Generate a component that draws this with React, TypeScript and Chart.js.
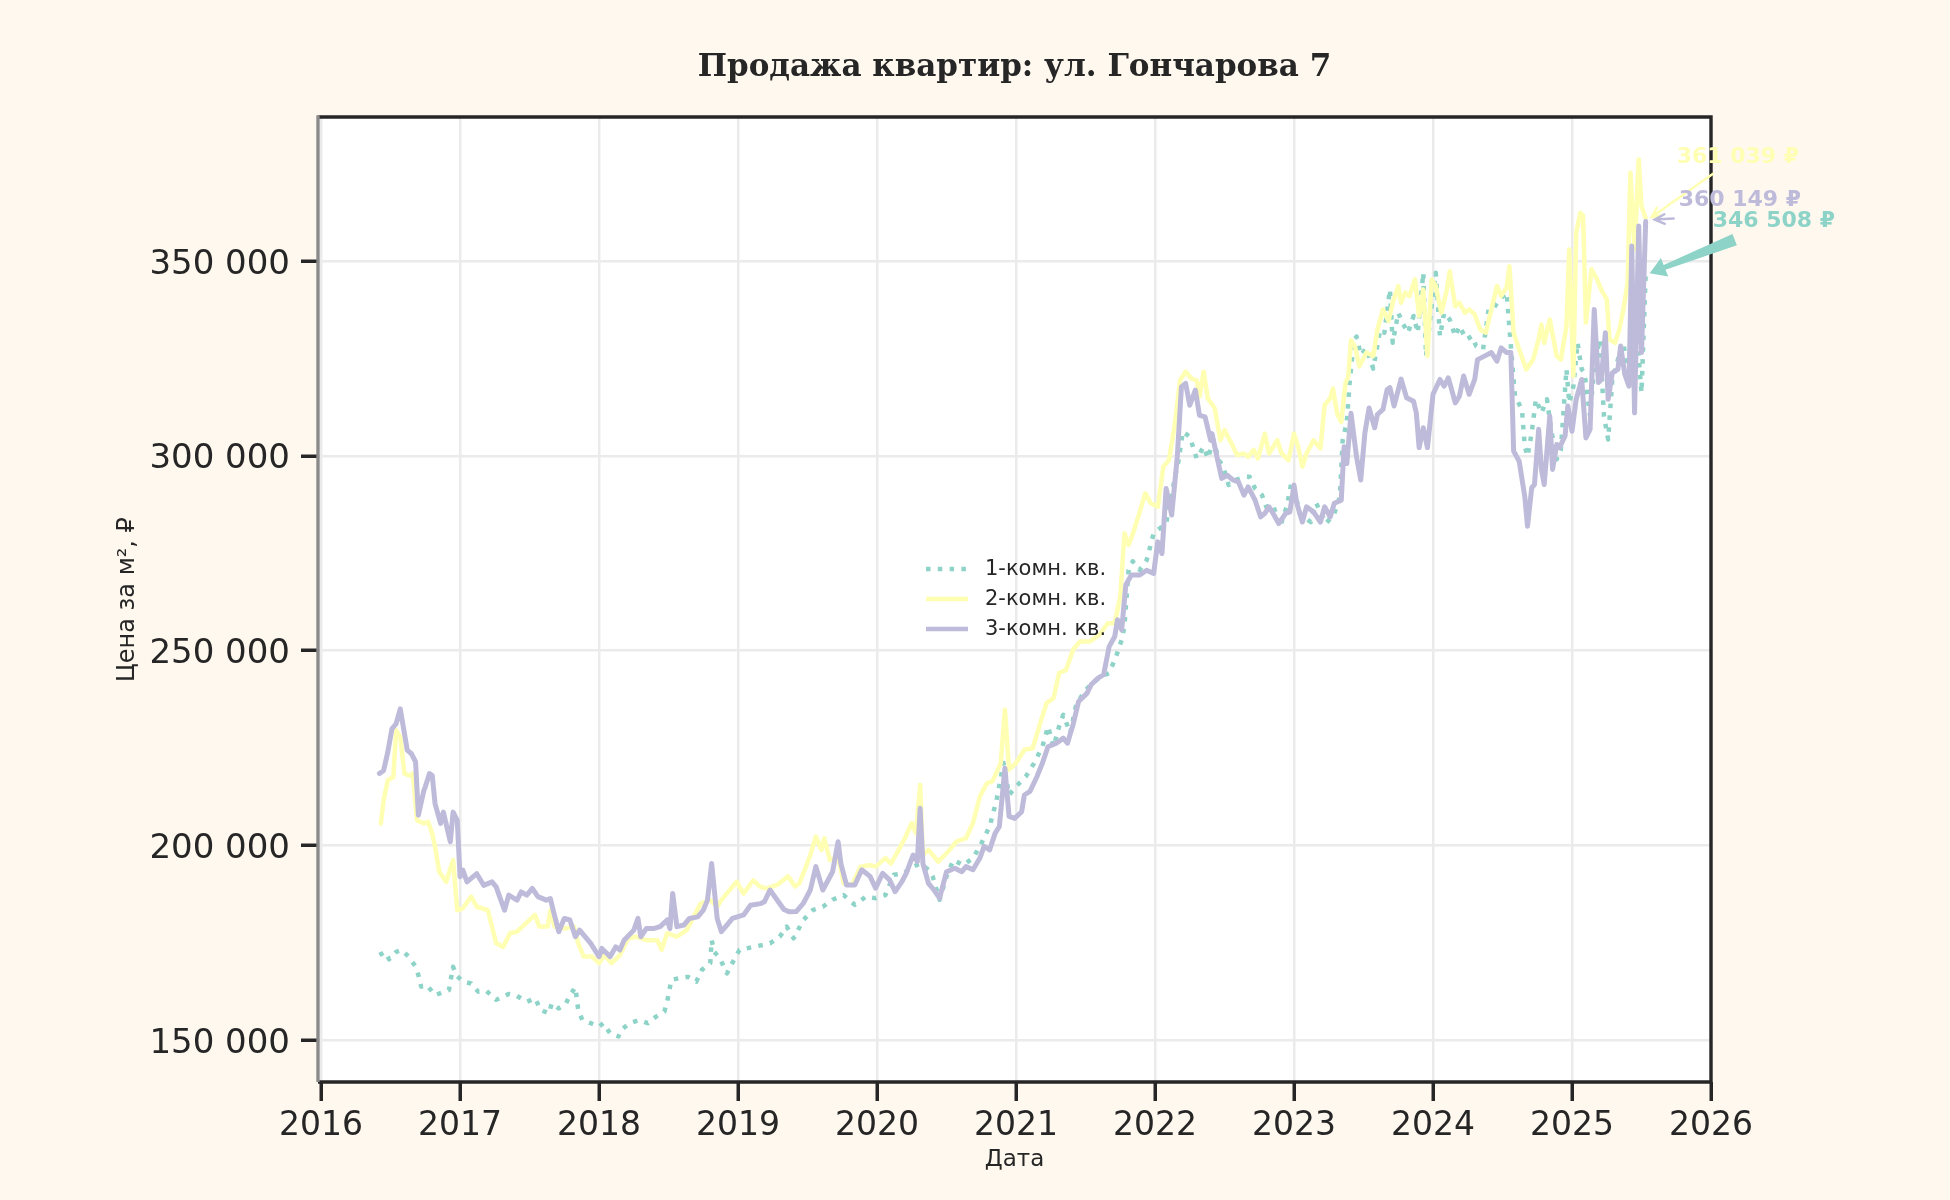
import { useEffect, useRef } from 'react';
import { Chart, registerables, ChartOptions, Plugin } from 'chart.js';

Chart.register(...registerables);

// x values are decimal years, y values are rubles per m²
const oneRoomDates = [
    2016.42, 2016.46, 2016.49, 2016.54, 2016.58, 2016.63, 2016.68, 2016.70, 2016.72, 2016.76, 2016.80, 2016.82, 2016.86, 2016.92, 2016.95, 2016.97,
    2017.02, 2017.08, 2017.13, 2017.19, 2017.26, 2017.35, 2017.41, 2017.48, 2017.54, 2017.58, 2017.64, 2017.66, 2017.71, 2017.76, 2017.79, 2017.83, 2017.85, 2017.88, 2017.94,
    2018.00, 2018.03, 2018.08, 2018.14, 2018.16, 2018.22, 2018.29, 2018.35, 2018.41, 2018.47, 2018.49, 2018.52, 2018.57, 2018.64, 2018.70, 2018.74, 2018.80, 2018.81, 2018.83, 2018.87, 2018.92, 2018.97,
    2019.01, 2019.11, 2019.18, 2019.23, 2019.30, 2019.35, 2019.40, 2019.47, 2019.54, 2019.61, 2019.68, 2019.76, 2019.84, 2019.92, 2019.99,
    2020.06, 2020.12, 2020.19, 2020.26, 2020.31, 2020.37, 2020.40, 2020.45, 2020.50, 2020.55, 2020.62, 2020.69, 2020.74, 2020.81, 2020.86, 2020.91, 2020.95,
    2021.00, 2021.07, 2021.13, 2021.19, 2021.23, 2021.27, 2021.31, 2021.34, 2021.39, 2021.43, 2021.49, 2021.55, 2021.61, 2021.67, 2021.72, 2021.76, 2021.78, 2021.81, 2021.84, 2021.89, 2021.94, 2021.99,
    2022.08, 2022.14, 2022.17, 2022.20, 2022.25, 2022.30, 2022.35, 2022.38, 2022.42, 2022.46, 2022.49, 2022.53, 2022.58, 2022.65, 2022.68, 2022.72, 2022.77, 2022.80, 2022.85, 2022.90, 2022.95, 2022.98,
    2023.01, 2023.04, 2023.12, 2023.16, 2023.23, 2023.29, 2023.33, 2023.35, 2023.38, 2023.40, 2023.43, 2023.45, 2023.48, 2023.52, 2023.57, 2023.62, 2023.65, 2023.69, 2023.71, 2023.75, 2023.78, 2023.82, 2023.86, 2023.89, 2023.93, 2023.95, 2023.99,
    2024.02, 2024.05, 2024.08, 2024.12, 2024.16, 2024.19, 2024.24, 2024.28, 2024.31, 2024.36, 2024.40, 2024.43, 2024.48, 2024.53, 2024.56, 2024.59, 2024.64, 2024.66, 2024.68, 2024.71, 2024.74, 2024.78, 2024.82, 2024.85, 2024.89, 2024.92, 2024.96, 2024.98,
    2025.01, 2025.04, 2025.07, 2025.09, 2025.13, 2025.16, 2025.20, 2025.23, 2025.26, 2025.29, 2025.33, 2025.37, 2025.40, 2025.43, 2025.46, 2025.50, 2025.53,
];
const oneRoomPrices = [
    171800, 172600, 170700, 172600, 173100, 171400, 168800, 166700, 163700, 164100, 162400, 161500, 162000, 162800, 168800, 166700,
    165000, 164500, 162400, 162600, 160300, 161800, 161300, 159800, 160700, 157700, 156800, 159400, 158100, 159200, 161500, 163500, 157700, 155100, 154300,
    153400, 154300, 151700, 150900, 152600, 154300, 155100, 154300, 156000, 157300, 159800, 165400, 165800, 166200, 165000, 168000, 169700, 175600, 172600, 170900, 167100, 170500,
    173100, 173900, 174400, 174800, 176500, 179100, 176100, 180800, 183400, 184200, 186000, 187200, 184700, 186800, 186400,
    187200, 192400, 192800, 194500, 195300, 193700, 192000, 186000, 192000, 196200, 194900, 196700, 199700, 204800, 211600, 221100, 212900,
    215100, 217600, 221100, 225300, 230500, 225300, 230500, 233500, 228800, 235600, 239500, 241600, 243300, 244200, 248500, 252700, 256200, 270700, 272900, 270700, 273200, 280100,
    282600, 293800, 298900, 306200, 304900, 299300, 302300, 299300, 304000, 298900, 297200, 292500, 293800, 294600, 294600, 291600, 289900, 286900, 287300, 281800, 287300, 292900,
    290300, 285200, 283000, 287800, 282600, 285200, 289500, 304000, 308700, 318600, 329700, 330600, 325900, 327600, 322400, 332400, 331600, 342700, 329000, 336700, 334200, 331600, 335900, 331600, 347000, 325600, 338400,
    347000, 330700, 336700, 335000, 330700, 333300, 329900, 330700, 328200, 327300, 337600, 337600, 340200, 341900, 328200, 315300, 311900, 302500, 299900, 305900, 314500, 311000, 314500, 306800, 299100, 301600, 322200, 313600,
    317900, 329000, 322200, 321300, 310200, 323000, 329900, 310200, 304200, 319600, 324700, 329000, 321300, 329900, 334200, 316200, 346508,
];

const twoRoomDates = [
    2016.43, 2016.45, 2016.48, 2016.52, 2016.54, 2016.57, 2016.60, 2016.64, 2016.66, 2016.69, 2016.74, 2016.77, 2016.80, 2016.82, 2016.85, 2016.90, 2016.95, 2016.98,
    2017.02, 2017.08, 2017.12, 2017.20, 2017.26, 2017.31, 2017.36, 2017.41, 2017.46, 2017.54, 2017.57, 2017.63, 2017.65, 2017.68, 2017.75, 2017.82, 2017.85, 2017.89, 2017.95,
    2018.00, 2018.04, 2018.09, 2018.15, 2018.21, 2018.27, 2018.34, 2018.42, 2018.45, 2018.49, 2018.56, 2018.63, 2018.73, 2018.80, 2018.85, 2018.88, 2018.94, 2018.99,
    2019.04, 2019.11, 2019.16, 2019.21, 2019.28, 2019.36, 2019.41, 2019.44, 2019.48, 2019.52, 2019.56, 2019.60, 2019.62, 2019.66, 2019.72, 2019.76, 2019.82, 2019.88, 2019.95, 2019.99,
    2020.06, 2020.10, 2020.15, 2020.20, 2020.25, 2020.28, 2020.31, 2020.33, 2020.37, 2020.44, 2020.50, 2020.57, 2020.64, 2020.69, 2020.74, 2020.79, 2020.83, 2020.89, 2020.92, 2020.95,
    2021.00, 2021.06, 2021.12, 2021.17, 2021.22, 2021.27, 2021.31, 2021.36, 2021.41, 2021.46, 2021.53, 2021.60, 2021.66, 2021.71, 2021.75, 2021.78, 2021.81, 2021.84, 2021.88, 2021.93, 2021.97,
    2022.02, 2022.06, 2022.10, 2022.14, 2022.18, 2022.22, 2022.26, 2022.30, 2022.32, 2022.35, 2022.38, 2022.43, 2022.47, 2022.50, 2022.55, 2022.59, 2022.64, 2022.67, 2022.71, 2022.74, 2022.79, 2022.82, 2022.88, 2022.91, 2022.96,
    2023.00, 2023.03, 2023.06, 2023.09, 2023.14, 2023.19, 2023.22, 2023.26, 2023.28, 2023.31, 2023.34, 2023.37, 2023.39, 2023.41, 2023.44, 2023.47, 2023.52, 2023.57, 2023.60, 2023.64, 2023.68, 2023.71, 2023.75, 2023.77, 2023.80, 2023.83, 2023.87, 2023.90, 2023.93, 2023.96, 2023.99,
    2024.02, 2024.06, 2024.10, 2024.12, 2024.16, 2024.19, 2024.23, 2024.26, 2024.30, 2024.34, 2024.38, 2024.42, 2024.46, 2024.49, 2024.53, 2024.55, 2024.58, 2024.62, 2024.67, 2024.72, 2024.76, 2024.78, 2024.80, 2024.84, 2024.89, 2024.92, 2024.96, 2024.98,
    2025.01, 2025.03, 2025.06, 2025.08, 2025.10, 2025.14, 2025.18, 2025.21, 2025.25, 2025.27, 2025.31, 2025.34, 2025.37, 2025.40, 2025.42, 2025.45, 2025.48, 2025.50, 2025.53,
];
const twoRoomPrices = [
    205600, 211500, 216700, 217500, 229500, 227800, 218400, 217900, 218400, 206400, 205600, 206000, 203000, 199600, 193200, 190600, 196200, 183300,
    183800, 186800, 184200, 183300, 174800, 173900, 177400, 177800, 179500, 182100, 179100, 179100, 183300, 179100, 178600, 179100, 174800, 171400, 171400,
    169700, 171800, 169700, 171800, 176100, 176500, 175600, 175600, 173100, 177400, 176500, 178200, 185000, 185900, 184200, 185900, 188500, 190600,
    187600, 191000, 189300, 188900, 189800, 192000, 189400, 190200, 193700, 197500, 202200, 198800, 201800, 196200, 197100, 190200, 189800, 194500, 194900, 194500,
    196700, 195300, 198400, 201800, 205700, 203100, 215500, 197500, 198800, 195800, 197900, 200900, 201800, 205700, 212500, 215900, 216400, 221100, 234800, 219400,
    221100, 224500, 224900, 230900, 236500, 237800, 244200, 245000, 250200, 252300, 252300, 254000, 257000, 257000, 263900, 280100, 277100, 280000, 284400, 290400, 287800,
    286900, 297200, 298900, 307400, 319400, 321600, 319900, 319400, 315200, 321600, 314700, 312200, 304000, 306600, 303200, 300200, 300600, 299700, 301500, 299300, 305700, 300600, 304000, 300600, 298900,
    305700, 302300, 297200, 300600, 304000, 301900, 313000, 314700, 317300, 310900, 308700, 318600, 320300, 329700, 327900, 322900, 326500, 325600, 332400, 337600, 334600, 339300, 343600, 339300, 341900, 341000, 345300, 335900, 342700, 325600, 345300,
    343600, 336700, 342700, 347400, 338400, 339300, 336700, 337600, 336300, 332400, 331600, 337600, 343600, 341000, 343200, 348700, 331600, 327300, 322200, 324700, 329900, 333700, 329000, 335000, 325600, 324700, 333300, 353000,
    320500, 357300, 362400, 361600, 334200, 347900, 345300, 342700, 340200, 329900, 329000, 332400, 337600, 344400, 372700, 353000, 376100, 364100, 361039,
];

const threeRoomDates = [
    2016.42, 2016.45, 2016.48, 2016.51, 2016.54, 2016.57, 2016.62, 2016.65, 2016.68, 2016.70, 2016.74, 2016.75, 2016.78, 2016.80, 2016.82, 2016.86, 2016.88, 2016.93, 2016.95, 2016.98,
    2017.00, 2017.02, 2017.05, 2017.12, 2017.17, 2017.23, 2017.26, 2017.29, 2017.32, 2017.35, 2017.41, 2017.44, 2017.48, 2017.52, 2017.56, 2017.62, 2017.65, 2017.67, 2017.71, 2017.75, 2017.79, 2017.83, 2017.86, 2017.94,
    2018.00, 2018.02, 2018.08, 2018.12, 2018.15, 2018.18, 2018.25, 2018.28, 2018.30, 2018.34, 2018.39, 2018.44, 2018.49, 2018.51, 2018.53, 2018.56, 2018.61, 2018.65, 2018.71, 2018.75, 2018.78, 2018.81, 2018.85, 2018.88, 2018.92, 2018.96,
    2019.04, 2019.09, 2019.16, 2019.19, 2019.23, 2019.28, 2019.33, 2019.37, 2019.42, 2019.47, 2019.52, 2019.56, 2019.61, 2019.68, 2019.72, 2019.74, 2019.78, 2019.84, 2019.89, 2019.95, 2019.99,
    2020.04, 2020.09, 2020.13, 2020.18, 2020.21, 2020.26, 2020.29, 2020.31, 2020.33, 2020.37, 2020.41, 2020.45, 2020.50, 2020.56, 2020.61, 2020.64, 2020.69, 2020.74, 2020.77, 2020.81, 2020.85, 2020.88, 2020.92, 2020.95, 2020.99,
    2021.04, 2021.06, 2021.10, 2021.15, 2021.19, 2021.23, 2021.29, 2021.34, 2021.37, 2021.41, 2021.45, 2021.51, 2021.54, 2021.59, 2021.63, 2021.67, 2021.71, 2021.73, 2021.76, 2021.79, 2021.83, 2021.89, 2021.94, 2021.99,
    2022.02, 2022.05, 2022.08, 2022.12, 2022.16, 2022.19, 2022.22, 2022.25, 2022.29, 2022.32, 2022.36, 2022.40, 2022.41, 2022.44, 2022.48, 2022.52, 2022.56, 2022.60, 2022.64, 2022.67, 2022.72, 2022.76, 2022.79, 2022.82, 2022.85, 2022.89, 2022.94, 2022.97,
    2023.00, 2023.02, 2023.06, 2023.09, 2023.14, 2023.19, 2023.22, 2023.26, 2023.29, 2023.34, 2023.36, 2023.38, 2023.41, 2023.45, 2023.48, 2023.51, 2023.54, 2023.58, 2023.60, 2023.64, 2023.67, 2023.69, 2023.72, 2023.77, 2023.81, 2023.86, 2023.88, 2023.90, 2023.93, 2023.96,
    2024.00, 2024.05, 2024.08, 2024.11, 2024.13, 2024.16, 2024.19, 2024.22, 2024.26, 2024.30, 2024.32, 2024.37, 2024.42, 2024.46, 2024.49, 2024.53, 2024.56, 2024.58, 2024.62, 2024.66, 2024.68, 2024.71, 2024.73, 2024.76, 2024.78, 2024.80, 2024.84, 2024.86, 2024.89, 2024.91, 2024.95, 2024.97,
    2025.00, 2025.03, 2025.07, 2025.10, 2025.13, 2025.16, 2025.19, 2025.21, 2025.24, 2025.26, 2025.29, 2025.33, 2025.35, 2025.38, 2025.41, 2025.43, 2025.45, 2025.48, 2025.50, 2025.53,
];
const threeRoomPrices = [
    218400, 219200, 223900, 229900, 231200, 235000, 224400, 223500, 221400, 207700, 214100, 215000, 218400, 217900, 210700, 205600, 208500, 200900, 208500, 206400,
    191900, 193600, 190600, 192700, 189700, 190600, 189300, 186300, 183300, 187200, 185900, 188000, 187200, 188900, 186800, 185900, 186300, 183300, 177800, 181200, 180800, 176500, 178200, 174800,
    171400, 173500, 171400, 173900, 173100, 175600, 178200, 181200, 176500, 178600, 178600, 179100, 180800, 178600, 187600, 179100, 179500, 181200, 181600, 183300, 185900, 195300, 181200, 177800, 179500, 181200,
    182100, 184600, 185000, 185500, 188500, 186000, 183500, 182900, 183000, 185100, 188500, 194500, 188500, 193200, 200900, 195300, 189800, 189800, 193700, 192000, 189000,
    192800, 191100, 188100, 190700, 192800, 197500, 195800, 209500, 195300, 190200, 188500, 186400, 193200, 194100, 193200, 194500, 193700, 196700, 199700, 198800, 203100, 204800, 219800, 207400, 206900,
    208600, 212900, 213800, 217600, 221100, 225300, 226200, 227500, 226200, 230900, 236900, 239000, 241200, 242900, 243800, 251000, 253600, 257900, 255300, 266900, 269400, 269400, 270600, 269800,
    277900, 274900, 291600, 284800, 299700, 317700, 318600, 313000, 316900, 310400, 310000, 304000, 305700, 300600, 294200, 295000, 293800, 293300, 289900, 292000, 288600, 284300, 285200, 286900, 285200, 282600, 285200, 285600,
    292500, 287800, 283000, 286900, 285600, 283000, 286900, 284300, 287800, 288600, 302300, 298000, 310900, 299700, 293800, 305900, 312300, 307200, 310600, 311900, 317000, 317500, 312800, 319700, 314900, 314000, 311000, 302100, 307200, 302100,
    315800, 319600, 317900, 320000, 317500, 313600, 315300, 320500, 315800, 319600, 324700, 325600, 326500, 324300, 327700, 326500, 326500, 301200, 298600, 289600, 281900, 291800, 292600, 306800, 296500, 292600, 310200, 296500, 302900, 302100, 305100, 312800,
    306300, 314500, 319600, 304600, 306800, 337600, 318800, 319600, 331600, 314500, 321300, 322200, 328200, 320900, 317900, 353900, 311000, 359000, 326500, 360149,
];

const seriesLabels = ['1-комн. кв.', '2-комн. кв.', '3-комн. кв.'];
const seriesColors = ['#8dd3c7', '#ffffb3', '#bebada'];
const lastPriceLabels = ['346 508 ₽', '361 039 ₽', '360 149 ₽'];

const yearTicks = [2016, 2017, 2018, 2019, 2020, 2021, 2022, 2023, 2024, 2025, 2026];
const priceTicks = [150000, 200000, 250000, 300000, 350000];

const INK = '#262626';
const SANS = '"DejaVu Sans", sans-serif';

const toPoints = (xs: number[], ys: number[]) => xs.map((x, i) => ({ x, y: ys[i] }));
const fmtRub = (v: number) => String(v).replace(/\B(?=(\d{3})+(?!\d))/g, ' ');

// arrow helper: line or wide wedge ending at (x2, y2)
function drawArrow(ctx: CanvasRenderingContext2D, x1: number, y1: number, x2: number, y2: number, color: string, wide: boolean) {
    const ang = Math.atan2(y2 - y1, x2 - x1);
    ctx.save();
    ctx.strokeStyle = color;
    ctx.fillStyle = color;
    if (wide) {
        const nx = -Math.sin(ang), ny = Math.cos(ang);
        const headLen = 16, headW = 10, tailW = 6, neckW = 2.5;
        const bx = x2 - Math.cos(ang) * headLen, by = y2 - Math.sin(ang) * headLen;
        ctx.beginPath();
        ctx.moveTo(x1 + nx * tailW, y1 + ny * tailW);
        ctx.lineTo(bx + nx * neckW, by + ny * neckW);
        ctx.lineTo(bx + nx * headW, by + ny * headW);
        ctx.lineTo(x2, y2);
        ctx.lineTo(bx - nx * headW, by - ny * headW);
        ctx.lineTo(bx - nx * neckW, by - ny * neckW);
        ctx.lineTo(x1 - nx * tailW, y1 - ny * tailW);
        ctx.closePath();
        ctx.fill();
    } else {
        ctx.lineWidth = 2.5;
        ctx.lineCap = 'round';
        ctx.beginPath();
        ctx.moveTo(x1, y1);
        ctx.lineTo(x2, y2);
        const h = 11, a = 0.45;
        ctx.moveTo(x2 - Math.cos(ang - a) * h, y2 - Math.sin(ang - a) * h);
        ctx.lineTo(x2, y2);
        ctx.lineTo(x2 - Math.cos(ang + a) * h, y2 - Math.sin(ang + a) * h);
        ctx.stroke();
    }
    ctx.restore();
}

const decorPlugin: Plugin<'line'> = {
    id: 'decor',
    beforeDraw(chart) {
        const { ctx, chartArea: a } = chart;
        ctx.save();
        ctx.fillStyle = '#fff8ef';
        ctx.fillRect(0, 0, chart.width, chart.height);
        ctx.fillStyle = '#ffffff';
        ctx.fillRect(a.left, a.top, a.right - a.left, a.bottom - a.top);
        ctx.restore();
    },
    afterDraw(chart) {
        const { ctx, chartArea: a } = chart;
        ctx.save();
        // frame
        ctx.lineWidth = 3.4;
        ctx.strokeStyle = INK;
        ctx.beginPath();
        ctx.moveTo(a.left, a.top);
        ctx.lineTo(a.right, a.top);
        ctx.lineTo(a.right, a.bottom);
        ctx.lineTo(a.left, a.bottom);
        ctx.stroke();
        ctx.strokeStyle = '#8a8a8a';
        ctx.beginPath();
        ctx.moveTo(a.left, a.top - 1.7);
        ctx.lineTo(a.left, a.bottom);
        ctx.stroke();

        // y tick labels, centred on their ticks
        const yScale = chart.scales.y;
        ctx.fillStyle = INK;
        ctx.font = `34px ${SANS}`;
        ctx.textAlign = 'right';
        ctx.textBaseline = 'alphabetic';
        priceTicks.forEach((v) => {
            ctx.fillText(fmtRub(v), a.left - 28, yScale.getPixelForValue(v) + 12.6);
        });

        // title
        ctx.font = 'bold 31px "DejaVu Serif", serif';
        ctx.textAlign = 'center';
        ctx.textBaseline = 'middle';
        ctx.fillText('Продажа квартир: ул. Гончарова 7', (a.left + a.right) / 2, 68);

        // legend inside the plot
        ctx.font = `21px ${SANS}`;
        ctx.textAlign = 'left';
        seriesLabels.forEach((label, i) => {
            const y = 569 + i * 30;
            ctx.save();
            ctx.strokeStyle = seriesColors[i];
            ctx.lineWidth = 4.5;
            if (i === 0) ctx.setLineDash([4.5, 7.3]);
            ctx.beginPath();
            ctx.moveTo(926, y);
            ctx.lineTo(968, y);
            ctx.stroke();
            ctx.restore();
            ctx.fillStyle = INK;
            ctx.fillText(label, 985, y + 1);
        });

        // last-price annotations
        const specs = [
            { tx: 67, ty: -53, ax: 89, ay: -35, tipx: 4, tipy: -1.5, wide: true },
            { tx: 31, ty: -61, ax: 67, ay: -44, tipx: 6, tipy: -1, wide: false },
            { tx: 33, ty: -21, ax: 28, ay: -3, tipx: 9, tipy: -2, wide: false },
        ];
        ctx.font = `bold 22px ${SANS}`;
        ctx.textBaseline = 'middle';
        [1, 2, 0].forEach((i) => {
            const pts = chart.getDatasetMeta(i).data;
            const p = pts[pts.length - 1];
            const s = specs[i];
            drawArrow(ctx, p.x + s.ax, p.y + s.ay, p.x + s.tipx, p.y + s.tipy, seriesColors[i], s.wide);
            ctx.fillStyle = seriesColors[i];
            ctx.fillText(lastPriceLabels[i], p.x + s.tx, p.y + s.ty);
        });
        ctx.restore();
    },
};

const PriceChart: React.FC = () => {
    const chartRef = useRef<HTMLCanvasElement | null>(null);

    useEffect(() => {
        document.body.style.margin = '0';
        const ctx = chartRef.current?.getContext('2d');
        if (!ctx) return;

        const lineBase = { pointRadius: 0, borderWidth: 4.5, tension: 0, borderJoinStyle: 'round' as const };

        const options: ChartOptions<'line'> = {
            animation: false,
            responsive: false,
            devicePixelRatio: 1,
            layout: { padding: { top: 117, right: 239, left: 0, bottom: 0 } },
            plugins: { legend: { display: false }, tooltip: { enabled: false }, title: { display: false } },
            scales: {
                x: {
                    type: 'linear',
                    min: 2015.978,
                    max: 2026,
                    afterBuildTicks: (scale) => { scale.ticks = yearTicks.map((value) => ({ value })); },
                    afterFit: (scale) => { scale.height = 118; },
                    ticks: {
                        autoSkip: false,
                        maxRotation: 0,
                        padding: 6,
                        color: INK,
                        font: { family: SANS, size: 33 },
                        callback: (v) => String(v),
                    },
                    grid: { color: '#ebebeb', lineWidth: 2.5, tickColor: INK, tickWidth: 3.5, tickLength: 19 },
                    border: { display: false },
                    title: { display: true, text: 'Дата', color: INK, font: { family: SANS, size: 23 }, padding: { top: 0, bottom: 26 } },
                },
                y: {
                    type: 'linear',
                    min: 139200,
                    max: 387000,
                    afterBuildTicks: (scale) => { scale.ticks = priceTicks.map((value) => ({ value })); },
                    afterFit: (scale) => { scale.width = 318; },
                    ticks: {
                        display: false,
                    },
                    grid: { color: '#ebebeb', lineWidth: 2.5, tickColor: INK, tickWidth: 3.5, tickLength: 17 },
                    border: { display: false },
                    title: { display: true, text: 'Цена за м², ₽', color: INK, font: { family: SANS, size: 24 }, padding: { top: 113, bottom: 0 } },
                },
            },
        };

        const chart = new Chart(ctx, {
            type: 'line',
            data: {
                datasets: [
                    { ...lineBase, label: seriesLabels[0], data: toPoints(oneRoomDates, oneRoomPrices), borderColor: seriesColors[0], borderDash: [4.5, 7.3], borderCapStyle: 'butt', order: 2 },
                    { ...lineBase, label: seriesLabels[1], data: toPoints(twoRoomDates, twoRoomPrices), borderColor: seriesColors[1], borderCapStyle: 'round', order: 1 },
                    { ...lineBase, label: seriesLabels[2], data: toPoints(threeRoomDates, threeRoomPrices), borderColor: seriesColors[2], borderWidth: 5, borderCapStyle: 'round', order: 0 },
                ],
            },
            options,
            plugins: [decorPlugin],
        });

        return () => {
            chart.destroy();
        };
    }, []);

    return (
        <div style={{ width: 1950, height: 1200, background: '#fff8ef' }}>
            <canvas ref={chartRef} width={1950} height={1200}></canvas>
        </div>
    );
};

export default function App() {
    return <PriceChart />;
}
